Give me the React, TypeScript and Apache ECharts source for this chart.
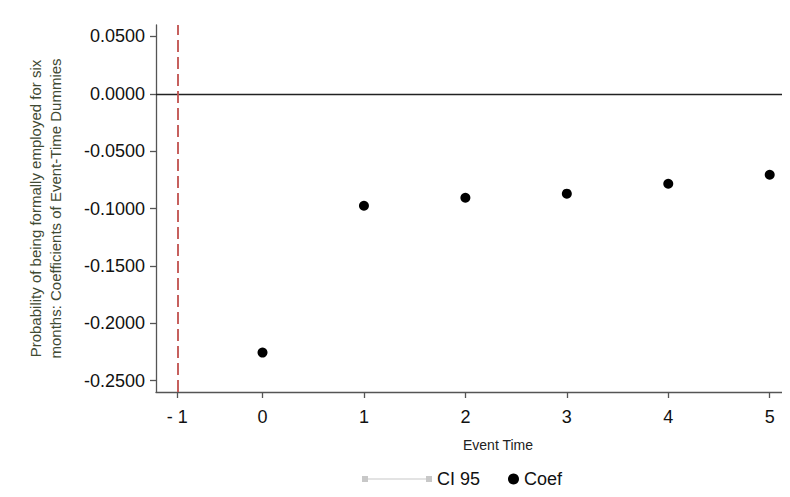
import React, { useEffect, useRef } from 'react';
import * as echarts from 'echarts';

// event time vs. coefficient of event-time dummies
const eventTimes = [0, 1, 2, 3, 4, 5];
const coefs = [-0.2256, -0.0976, -0.0906, -0.0871, -0.0784, -0.0706];
const yTicks = [-0.25, -0.2, -0.15, -0.1, -0.05, 0, 0.05];
const xTicks = [0, 1, 2, 3, 4, 5];
// reference period (event time -1) sits a bit closer to 0 in the original
const refPeriodX = -0.84;

const FONT = '"Liberation Sans", Arial, sans-serif';

const App: React.FC = () => {
  const chartRef = useRef<HTMLDivElement>(null);

  useEffect(() => {
    if (!chartRef.current) return;
    const chart = echarts.init(chartRef.current, undefined, { renderer: 'svg' });

    const option: echarts.EChartsOption = {
      animation: false,
      textStyle: { fontFamily: FONT },
      grid: { left: 156, right: 0, top: 25, bottom: 105 },
      legend: [
        {
          data: [{ name: 'CI 95', icon: 'path://M0,0h6v6h-6z M6,2.5h58v1h-58z M64,0h6v6h-6z', itemStyle: { color: '#c8c8c8' } }],
          left: 357,
          top: 465,
          itemWidth: 70,
          itemHeight: 6,
          textStyle: { fontSize: 18, color: '#111' },
        },
        {
          data: [{ name: 'Coef', icon: 'circle' }],
          left: 503,
          top: 465,
          itemWidth: 11,
          itemHeight: 11,
          textStyle: { fontSize: 18, color: '#111' },
        },
      ],
      xAxis: {
        type: 'value',
        min: -1.05,
        max: 5.2,
        name: 'Event Time',
        nameLocation: 'middle',
        nameGap: 46,
        nameTextStyle: { fontSize: 14, color: '#222', padding: [0, 0, 0, 50] },
        axisLine: { onZero: false, lineStyle: { color: '#555', width: 1.3 } },
        axisTick: {
          length: 6,
          customValues: [refPeriodX, ...xTicks],
          lineStyle: { color: '#555', width: 1.3 },
        },
        axisLabel: {
          customValues: [refPeriodX, ...xTicks],
          fontSize: 18,
          color: '#111',
          margin: 16,
          formatter: (v: number) => (v === refPeriodX ? '- 1' : String(v)),
        },
        splitLine: { show: false },
      },
      yAxis: {
        type: 'value',
        min: -0.26,
        max: 0.06,
        name: 'Probability of being formally employed for six\nmonths: Coefficients of Event-Time Dummies',
        nameLocation: 'middle',
        nameGap: 91,
        nameRotate: 90,
        nameTextStyle: { fontSize: 15, color: '#3f4a33', align: 'center', lineHeight: 20 },
        axisLine: { show: true, onZero: false, lineStyle: { color: '#555', width: 1.3 } },
        axisTick: {
          show: true,
          length: 6,
          customValues: yTicks,
          lineStyle: { color: '#555', width: 1.3 },
        },
        axisLabel: {
          customValues: yTicks,
          fontSize: 18,
          color: '#111',
          margin: 11,
          formatter: (v: number) => v.toFixed(4),
        },
        splitLine: { show: false },
      },
      series: [
        {
          name: 'CI 95',
          type: 'line',
          data: [],
          itemStyle: { color: '#c8c8c8' },
        },
        {
          name: 'Coef',
          type: 'scatter',
          symbolSize: 10,
          itemStyle: { color: '#000', opacity: 1 },
          data: eventTimes.map((t, i) => [t, coefs[i]]),
          markLine: {
            silent: true,
            symbol: 'none',
            label: { show: false },
            data: [
              { yAxis: 0, lineStyle: { color: '#222', width: 1.3, type: 'solid' } },
              { xAxis: refPeriodX, lineStyle: { color: '#c0504d', width: 1.8, type: [12, 5] } },
            ],
          },
        },
      ],
    };

    chart.setOption(option);
    return () => chart.dispose();
  }, []);

  return <div ref={chartRef} style={{ width: 790, height: 497, margin: -8 }} />;
};

export default App;
